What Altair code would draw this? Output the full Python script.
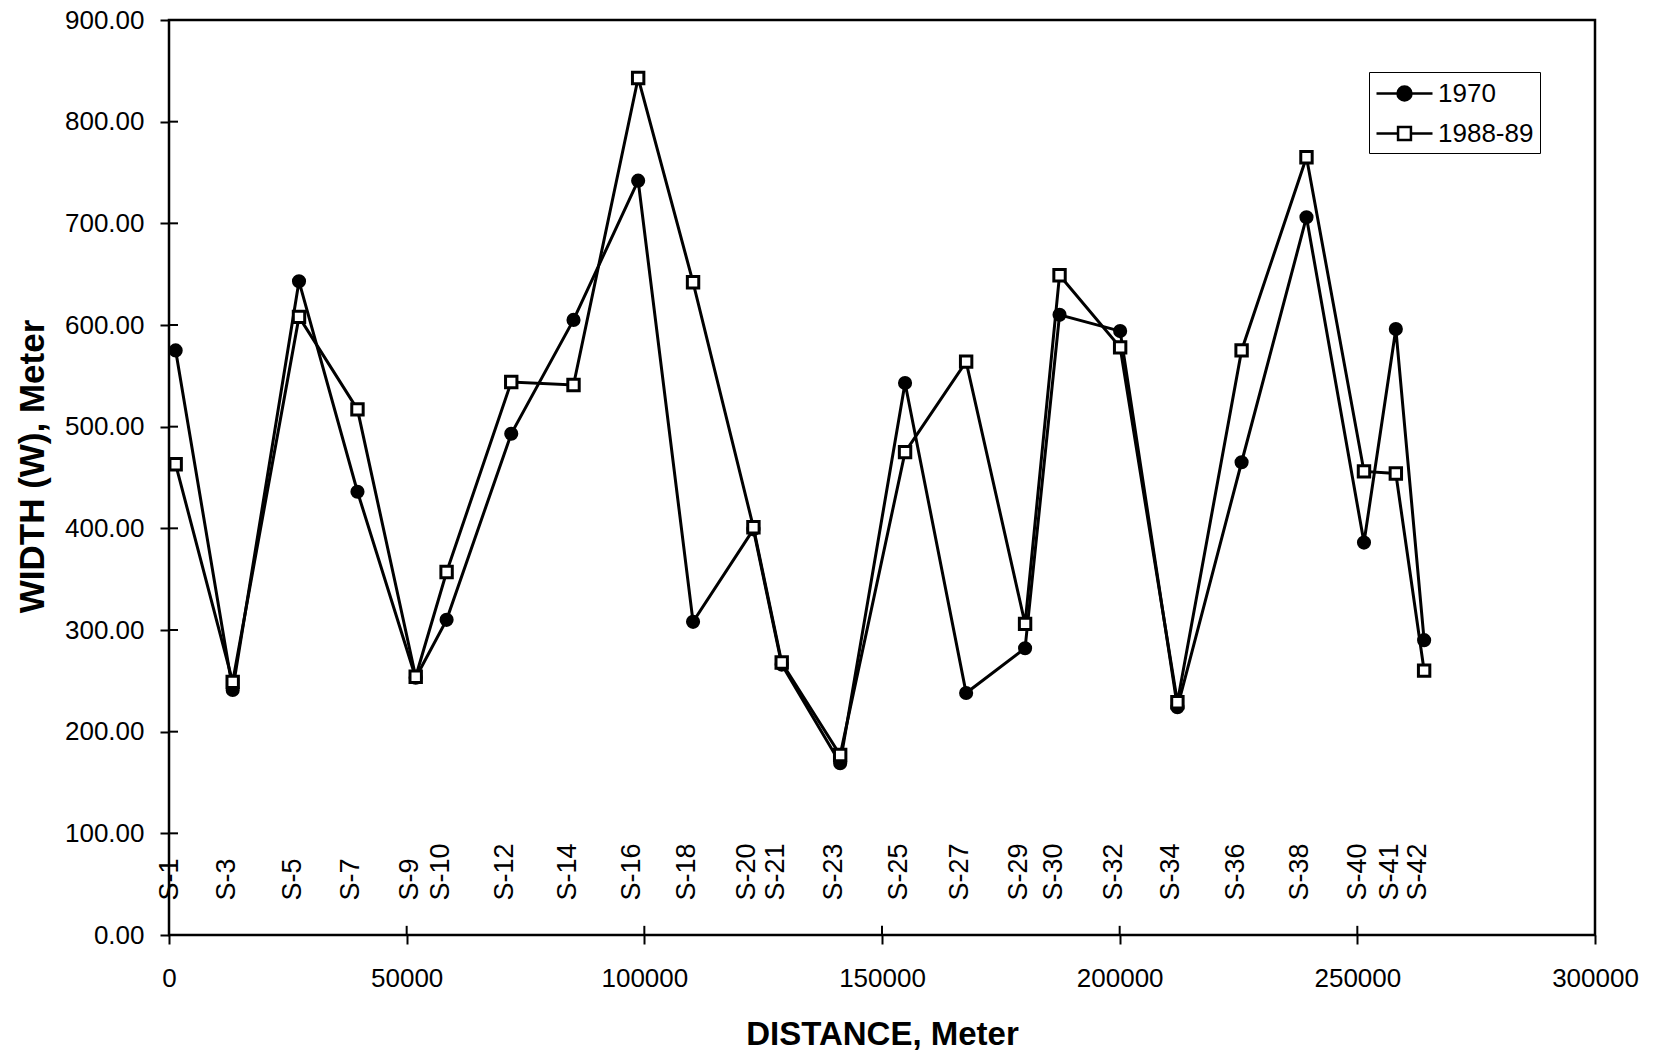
import altair as alt
import pandas as pd

# Cross-section stations along the river reach
stations = ["S-1", "S-3", "S-5", "S-7", "S-9", "S-10", "S-12", "S-14", "S-16",
            "S-18", "S-20", "S-21", "S-23", "S-25", "S-27", "S-29", "S-30",
            "S-32", "S-34", "S-36", "S-38", "S-40", "S-41", "S-42"]
distance_m = [1400, 13400, 27350, 39650, 51900, 58400, 72000, 85100, 98700,
              110250, 122950, 128900, 141200, 154850, 167700, 180100, 187350,
              200100, 212150, 225650, 239300, 251400, 258100, 264050]

# Channel width (m) for each survey
width_1970 = [575, 241, 643, 436, 253, 310, 493, 605, 742, 308, 399, 266,
              169, 543, 238, 282, 610, 594, 224, 465, 706, 386, 596, 290]
width_1988 = [463, 249, 608, 517, 254, 357, 544, 541, 843, 642, 401, 268,
              177, 475, 564, 306, 649, 578, 229, 575, 765, 456, 454, 260]

series_names = ["1970", "1988-89"]
y_ticks = [0, 100, 200, 300, 400, 500, 600, 700, 800, 900]
x_ticks = [0, 50000, 100000, 150000, 200000, 250000, 300000]

rows = []
for s, d, a, b in zip(stations, distance_m, width_1970, width_1988):
    rows.append({"station": s, "distance": d, "series": series_names[0], "width": a})
    rows.append({"station": s, "distance": d, "series": series_names[1], "width": b})
df = pd.DataFrame(rows)
stations_df = pd.DataFrame({"station": stations, "distance": distance_m})
ytick_df = pd.DataFrame({"tick": y_ticks[1:-1]})
xtick_df = pd.DataFrame({"tick": x_ticks[1:-1]})

FONT = "Liberation Sans"
W, H = 1426, 915

x_scale = alt.Scale(domain=[0, 300000], nice=False, zero=False)
y_scale = alt.Scale(domain=[0, 900], nice=False)

x_enc = alt.X(
    "distance:Q", scale=x_scale,
    axis=alt.Axis(values=x_ticks, format="d", title="DISTANCE, Meter",
                  labelFlush=False, labelPadding=21, titlePadding=27,
                  titleFontSize=33),
)
y_enc = alt.Y(
    "width:Q", scale=y_scale,
    axis=alt.Axis(values=y_ticks, format=".2f", title="WIDTH (W), Meter",
                  labelFlush=False, labelPadding=16, titlePadding=14,
                  titleFontSize=35, titleY=446),
)

base = alt.Chart(df)

lines = base.mark_line(color="black", strokeWidth=3).encode(
    x=x_enc, y=y_enc, detail="series:N", order="distance:Q"
)

circles = base.transform_filter(alt.datum.series == "1970").mark_point(
    shape="circle", filled=True, color="black", size=200, opacity=1
).encode(x="distance:Q", y="width:Q")

squares = base.transform_filter(alt.datum.series == "1988-89").mark_square(
    fill="white", stroke="black", strokeWidth=3, size=130, opacity=1
).encode(x="distance:Q", y="width:Q")

# Station names written vertically near the bottom of the plot
station_labels = alt.Chart(stations_df).mark_text(
    angle=270, align="left", baseline="middle", dy=-6,
    font=FONT, fontSize=27, color="black"
).encode(x="distance:Q", y=alt.datum(34), text="station:N")

# Inner halves of the cross-shaped tick marks
inner_y = alt.Chart(ytick_df).mark_rule(color="black", strokeWidth=2).encode(
    y=alt.Y("tick:Q", scale=y_scale), x=alt.datum(0), x2=alt.datum(1900)
)
inner_x = alt.Chart(xtick_df).mark_rule(color="black", strokeWidth=2).encode(
    x=alt.X("tick:Q", scale=x_scale), y=alt.datum(0), y2=alt.datum(9)
)

# Legend symbols: a short line with the series marker in the middle
legend_paths = [
    "M-1,0H0.5M1.5,0H3M0.5,0A0.5,0.5,0,1,0,1.5,0A0.5,0.5,0,1,0,0.5,0Z",
    "M-1,0H0.54M1.46,0H3M0.54,-0.46H1.46V0.46H0.54Z",
]
legend_cfg = alt.Legend(
    title=None, orient="none", legendX=1200, legendY=52,
    symbolSize=784, symbolStrokeWidth=2.5, symbolStrokeColor="black",
    labelFont=FONT, labelFontSize=26, labelColor="black", labelOffset=32,
    labelLimit=300, padding=6, rowPadding=11,
    strokeColor="black", fillColor="white",
)
legend_layer = base.transform_filter("false").mark_point(
    filled=True, strokeWidth=2.5, size=784, opacity=1
).encode(
    shape=alt.Shape("series:N", scale=alt.Scale(domain=series_names, range=legend_paths),
                    legend=legend_cfg),
    fill=alt.Fill("series:N", scale=alt.Scale(domain=series_names, range=["black", "white"]),
                  legend=legend_cfg),
    stroke=alt.Stroke("series:N", scale=alt.Scale(domain=series_names, range=["black", "black"]),
                      legend=legend_cfg),
)

chart = alt.layer(
    lines, circles, squares, station_labels, inner_y, inner_x, legend_layer
).properties(
    width=W, height=H,
    autosize=alt.AutoSizeParams(type="none"),
    padding={"left": 169, "top": 20, "right": 1660 - 169 - W, "bottom": 1057 - 20 - H},
    background="white",
).configure_view(
    stroke="black", strokeWidth=2.5
).configure_axis(
    domain=False, grid=False, ticks=True, tickColor="black", tickSize=9, tickWidth=2,
    labelFont=FONT, labelFontSize=26, labelColor="black",
    titleFont=FONT, titleFontSize=32, titleFontWeight="bold", titleColor="black",
)

chart.save("out.html", embed_options={"renderer": "svg", "actions": False})
